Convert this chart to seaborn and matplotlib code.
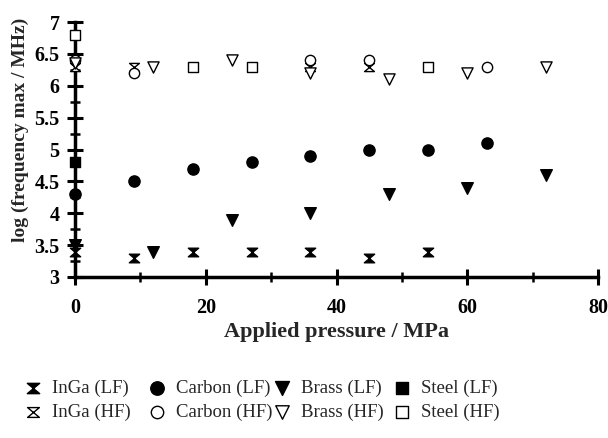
import matplotlib
matplotlib.use("Agg")
import matplotlib.pyplot as plt
from matplotlib.ticker import MultipleLocator
from matplotlib.path import Path
import seaborn as sns
import pandas as pd

# ---- data ----
inga_lf_x = [0, 9, 18, 27, 36, 45, 54]
inga_lf_y = [3.4, 3.3, 3.4, 3.4, 3.4, 3.3, 3.4]
carbon_lf_x = [0, 9, 18, 27, 36, 45, 54, 63]
carbon_lf_y = [4.3, 4.5, 4.7, 4.8, 4.9, 5.0, 5.0, 5.1]
brass_lf_x = [0, 12, 24, 36, 48, 60, 72]
brass_lf_y = [3.5, 3.4, 3.9, 4.0, 4.3, 4.4, 4.6]
steel_lf_x = [0]
steel_lf_y = [4.8]

inga_hf_x = [0, 9, 18, 27, 36, 45, 54]
inga_hf_y = [6.3, 6.3, 6.3, 6.3, 6.3, 6.3, 6.3]
carbon_hf_x = [0, 9, 36, 45, 63]
carbon_hf_y = [6.4, 6.2, 6.4, 6.4, 6.3]
brass_hf_x = [0, 12, 24, 36, 48, 60, 72]
brass_hf_y = [6.35, 6.3, 6.4, 6.2, 6.1, 6.2, 6.3]
steel_hf_x = [0, 18, 27, 54]
steel_hf_y = [6.8, 6.3, 6.3, 6.3]

x_ticks = [0, 20, 40, 60, 80]
y_ticks = [3, 3.5, 4, 4.5, 5, 5.5, 6, 6.5, 7]
y_tick_labels = ["3", "3.5", "4", "4.5", "5", "5.5", "6", "6.5", "7"]

sns.set_style("ticks")
plt.rcParams['font.family'] = ['Liberation Serif', 'DejaVu Serif']

hourglass = Path([(-1.2, 1), (1.2, 1), (-1.2, -1), (1.2, -1), (-1.2, 1)],
                 [Path.MOVETO, Path.LINETO, Path.LINETO, Path.LINETO, Path.CLOSEPOLY])

W, H = 608, 438
fig = plt.figure(figsize=(W/100, H/100), dpi=100)
ax = fig.add_axes([75/W, 1 - 277/H, (598-75)/W, (277-22)/H])

series = [
    ("InGa (LF)", inga_lf_x, inga_lf_y, hourglass, "black", 55),
    ("InGa (HF)", inga_hf_x, inga_hf_y, hourglass, "white", 50),
    ("Carbon (LF)", carbon_lf_x, carbon_lf_y, "o", "black", 65),
    ("Carbon (HF)", carbon_hf_x, carbon_hf_y, "o", "white", 55),
    ("Brass (LF)", brass_lf_x, brass_lf_y, "v", "black", 70),
    ("Brass (HF)", brass_hf_x, brass_hf_y, "v", "white", 65),
    ("Steel (LF)", steel_lf_x, steel_lf_y, "s", "black", 50),
    ("Steel (HF)", steel_hf_x, steel_hf_y, "s", "white", 45),
]
for name, xs, ys, m, fc, s in series:
    df = pd.DataFrame({"x": xs, "y": ys})
    sns.scatterplot(data=df, x="x", y="y", ax=ax, marker=m, s=s,
                    color=fc, edgecolor="black", linewidth=1.0, label=name,
                    clip_on=False, zorder=3)

ax.set_xlim(0, 80)
ax.set_ylim(3, 7)
ax.set_xticks(x_ticks)
ax.set_yticks(y_ticks)
ax.set_yticklabels(y_tick_labels)
ax.xaxis.set_minor_locator(MultipleLocator(10))
ax.yaxis.set_minor_locator(MultipleLocator(0.25))
for sp in ["top", "right"]:
    ax.spines[sp].set_visible(False)
for sp in ["left", "bottom"]:
    ax.spines[sp].set_linewidth(2.5)
    ax.spines[sp].set_color("black")
ax.tick_params(which="major", direction="inout", length=12, width=2.2,
               labelsize=14.5, colors="black")
ax.tick_params(axis="x", which="major", pad=9)
ax.tick_params(axis="y", which="major", pad=5)
ax.tick_params(which="minor", direction="inout", length=7, width=1.8, colors="black")
for lab in ax.get_xticklabels() + ax.get_yticklabels():
    lab.set_fontweight("bold")

ax.set_xlabel("Applied pressure / MPa", fontsize=16, fontweight="bold", labelpad=3)
ax.set_ylabel("log (frequency max / MHz)", fontsize=14, fontweight="bold", labelpad=4)
ax.yaxis.set_label_coords(-0.087, 0.575)

handles, labels = ax.get_legend_handles_labels()
ax.legend_ = None
col_x = [33, 157, 282, 402]
for i, cx in enumerate(col_x):
    leg = fig.legend(handles[2*i:2*i+2], labels[2*i:2*i+2], loc="center left",
                     bbox_to_anchor=((cx - 9) / W, 1 - 400 / H),
                     bbox_transform=fig.transFigure, frameon=False,
                     fontsize=13.5, handletextpad=0.5, labelspacing=0.35,
                     borderpad=0, borderaxespad=0, handlelength=1.0,
                     markerscale=1.2)

fig.savefig("out.png", dpi=100, facecolor="white")
